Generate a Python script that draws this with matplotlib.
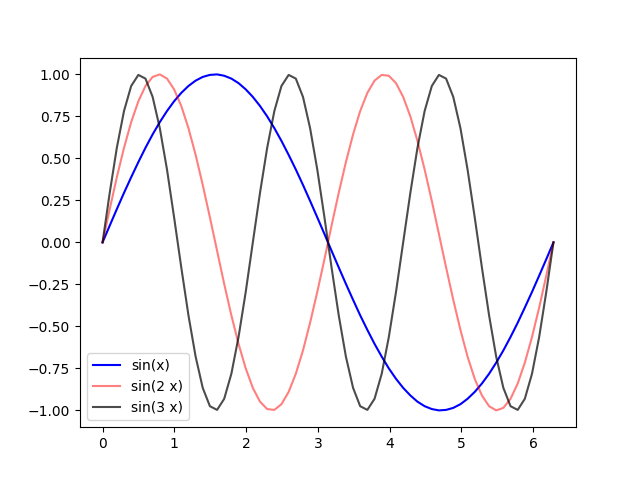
import matplotlib
matplotlib.use("Agg")
import matplotlib.pyplot as plt

# x positions along 0..2pi (64 samples)
x = [0.000, 0.100, 0.199, 0.299, 0.399, 0.499, 0.598, 0.698, 0.798, 0.898,
     0.997, 1.097, 1.197, 1.297, 1.396, 1.496, 1.596, 1.695, 1.795, 1.895,
     1.995, 2.094, 2.194, 2.294, 2.394, 2.493, 2.593, 2.693, 2.793, 2.892,
     2.992, 3.092, 3.191, 3.291, 3.391, 3.491, 3.590, 3.690, 3.790, 3.890,
     3.989, 4.089, 4.189, 4.289, 4.388, 4.488, 4.588, 4.687, 4.787, 4.887,
     4.987, 5.086, 5.186, 5.286, 5.386, 5.485, 5.585, 5.685, 5.785, 5.884,
     5.984, 6.084, 6.183, 6.283]

sin1 = [0.000, 0.100, 0.198, 0.295, 0.388, 0.478, 0.563, 0.643, 0.716, 0.782,
        0.840, 0.890, 0.931, 0.963, 0.985, 0.997, 1.000, 0.992, 0.975, 0.948,
        0.911, 0.866, 0.812, 0.750, 0.680, 0.604, 0.521, 0.434, 0.342, 0.247,
        0.149, 0.050, -0.050, -0.149, -0.247, -0.342, -0.434, -0.521, -0.604, -0.680,
        -0.750, -0.812, -0.866, -0.911, -0.948, -0.975, -0.992, -1.000, -0.997, -0.985,
        -0.963, -0.931, -0.890, -0.840, -0.782, -0.716, -0.643, -0.563, -0.478, -0.388,
        -0.295, -0.198, -0.100, 0.000]

sin2 = [0.000, 0.198, 0.388, 0.563, 0.716, 0.840, 0.931, 0.985, 1.000, 0.975,
        0.911, 0.812, 0.680, 0.521, 0.342, 0.149, -0.050, -0.247, -0.434, -0.604,
        -0.750, -0.866, -0.948, -0.992, -0.997, -0.963, -0.890, -0.782, -0.643, -0.478,
        -0.295, -0.100, 0.100, 0.295, 0.478, 0.643, 0.782, 0.890, 0.963, 0.997,
        0.992, 0.948, 0.866, 0.750, 0.604, 0.434, 0.247, 0.050, -0.149, -0.342,
        -0.521, -0.680, -0.812, -0.911, -0.975, -1.000, -0.985, -0.931, -0.840, -0.716,
        -0.563, -0.388, -0.198, 0.000]

sin3 = [0.000, 0.295, 0.563, 0.782, 0.931, 0.997, 0.975, 0.866, 0.680, 0.434,
        0.149, -0.149, -0.434, -0.680, -0.866, -0.975, -0.997, -0.931, -0.782, -0.563,
        -0.295, 0.000, 0.295, 0.563, 0.782, 0.931, 0.997, 0.975, 0.866, 0.680,
        0.434, 0.149, -0.149, -0.434, -0.680, -0.866, -0.975, -0.997, -0.931, -0.782,
        -0.563, -0.295, 0.000, 0.295, 0.563, 0.782, 0.931, 0.997, 0.975, 0.866,
        0.680, 0.434, 0.149, -0.149, -0.434, -0.680, -0.866, -0.975, -0.997, -0.931,
        -0.782, -0.563, -0.295, 0.000]

fig, ax = plt.subplots(figsize=(6.4, 4.8), dpi=100)
ax.plot(x, sin1, color="b", label="sin(x)")
ax.plot(x, sin2, color="r", alpha=0.5, label="sin(2 x)")
ax.plot(x, sin3, color="k", alpha=0.7, label="sin(3 x)")
ax.legend(loc="lower left")
fig.savefig("out.png")
